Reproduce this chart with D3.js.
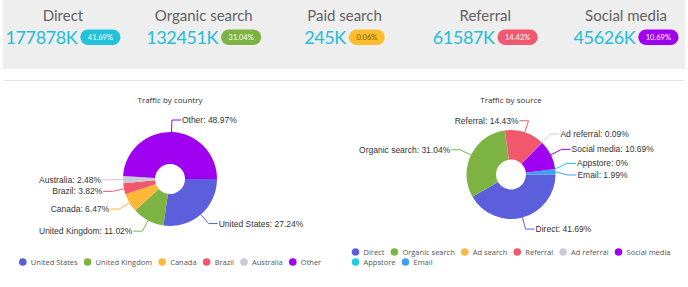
<!DOCTYPE html>
<html>
<head>
<meta charset="utf-8">
<script src="https://cdn.jsdelivr.net/npm/d3@7"></script>
<style>
  body { margin: 0; background: #fff; }
  svg { display: block; }
</style>
</head>
<body>
<script>
// top summary cards
const kpiNames  = ["Direct", "Organic search", "Paid search", "Referral", "Social media"];
const kpiValues = ["177878K", "132451K", "245K", "61587K", "45626K"];
const kpiShares = [41.69, 31.04, 0.06, 14.43, 10.69];
const kpiBadgeColors = ["#22c1dc", "#7cb342", "#fbbd2e", "#f0596f", "#a000f0"];
const kpiBadgeText   = ["#fff", "#fff", "#7a5a00", "#fff", "#fff"];

// donut data
const countries = ["United States", "United Kingdom", "Canada", "Brazil", "Australia", "Other"];
const countryShares = [27.24, 11.02, 6.47, 3.82, 2.48, 48.97];

const sources = ["Direct", "Organic search", "Ad search", "Referral", "Ad referral", "Social media", "Appstore", "Email"];
const sourceShares = [41.69, 31.04, 0.06, 14.43, 0.09, 10.69, 0, 1.99];
const hiddenLabels = ["Ad search"];   // not drawn in the original (overlap)
const flippedLabels = ["Referral"];   // label pushed to the left side

const palette = ["#5c5fdc", "#7cb342", "#fdb83a", "#f1576d", "#cbcad9", "#9f00ef", "#1fcfdf", "#3e9ff4"];

const WIDTH = 688, HEIGHT = 287;

const svg = d3.select("body").append("svg")
    .attr("width", WIDTH)
    .attr("height", HEIGHT);

// grey header band + divider
svg.append("rect")
    .attr("x", 3).attr("y", 0)
    .attr("width", 682).attr("height", 69)
    .attr("fill", "#eeeeee");

svg.append("line")
    .attr("x1", 3).attr("x2", 685)
    .attr("y1", 80.5).attr("y2", 80.5)
    .attr("stroke", "#e4e4e4");

// KPI cards
const xKpi = d3.scalePoint().domain(kpiNames).range([63, 626]);
const pct = d3.format(".2f");

kpiNames.forEach((name, i) => {
    const g = svg.append("g").attr("transform", `translate(${xKpi(name)},0)`);

    g.append("text")
        .attr("y", 15)
        .attr("text-anchor", "middle")
        .attr("dominant-baseline", "central")
        .style("font-family", "Lato, 'Open Sans', sans-serif")
        .style("font-size", "15px")
        .style("fill", "#626262")
        .text(name);

    const val = g.append("text")
        .attr("y", 37)
        .attr("dominant-baseline", "central")
        .style("font-family", "Lato, 'Open Sans', sans-serif")
        .style("font-size", "18px")
        .style("letter-spacing", "-0.4px")
        .style("fill", "#25bdd8")
        .text(kpiValues[i]);

    const badgeTxt = g.append("text")
        .attr("y", 37.5)
        .attr("text-anchor", "middle")
        .attr("dominant-baseline", "central")
        .style("font-family", "Lato, 'Open Sans', sans-serif")
        .style("font-size", "7.5px")
        .style("fill", kpiBadgeText[i])
        .text(pct(kpiShares[i]) + "%");

    const vw = val.node().getComputedTextLength();
    const bw = badgeTxt.node().getComputedTextLength() + 15;
    const total = vw + 3 + bw;
    const x0 = -total / 2;

    val.attr("x", x0);
    g.insert("rect", "text:last-child")
        .attr("x", x0 + vw + 3)
        .attr("y", 29.5)
        .attr("width", bw)
        .attr("height", 15.5)
        .attr("rx", 7.75)
        .attr("fill", kpiBadgeColors[i]);
    badgeTxt.attr("x", x0 + vw + 3 + bw / 2);
});

// donut charts
function drawDonut(opts) {
    const { names, values, cx, cy, rOuter, rInner, title, legendY, legendMaxW } = opts;
    const color = d3.scaleOrdinal().domain(names).range(palette);
    const data = names.map((n, i) => ({ name: n, value: values[i] }));

    const pie = d3.pie()
        .value(d => d.value)
        .sort(null)
        .startAngle(Math.PI / 2)
        .endAngle(Math.PI / 2 + 2 * Math.PI);
    const arcs = pie(data);
    const arc = d3.arc().innerRadius(rInner).outerRadius(rOuter);

    svg.append("text")
        .attr("x", cx).attr("y", 99)
        .attr("text-anchor", "middle")
        .attr("dominant-baseline", "central")
        .style("font-family", "'Open Sans', sans-serif")
        .style("font-size", "8px")
        .style("fill", "#333")
        .text(title);

    const g = svg.append("g").attr("transform", `translate(${cx},${cy})`);

    g.selectAll("path.slice")
        .data(arcs)
        .join("path")
        .attr("class", "slice")
        .attr("d", arc)
        .attr("fill", d => color(d.data.name));

    // labels with leader lines
    const labels = arcs
        .filter(d => !hiddenLabels.includes(d.data.name))
        .map(d => {
            const a = (d.startAngle + d.endAngle) / 2;
            const p0 = [Math.sin(a) * rOuter, -Math.cos(a) * rOuter];
            const p1 = [Math.sin(a) * (rOuter + 12), -Math.cos(a) * (rOuter + 12)];
            let side = Math.sin(a) >= 0 ? 1 : -1;
            if (flippedLabels.includes(d.data.name)) side = -side;
            return { d, p0, p1, side, y: p1[1] };
        });

    [1, -1].forEach(side => {
        const grp = labels.filter(l => l.side === side).sort((a, b) => a.y - b.y);
        for (let k = 0; k < 60; k++) {
            let moved = false;
            for (let i = 1; i < grp.length; i++) {
                const gap = grp[i].y - grp[i - 1].y;
                if (gap < 11.5) {
                    const s = (11.5 - gap) / 2;
                    grp[i].y += s;
                    grp[i - 1].y -= s;
                    moved = true;
                }
            }
            if (!moved) break;
        }
    });

    g.selectAll("polyline.leader")
        .data(labels)
        .join("polyline")
        .attr("class", "leader")
        .attr("points", l => [l.p0, [l.p1[0], l.y], [l.p1[0] + l.side * 9, l.y]].map(p => p.join(",")).join(" "))
        .attr("fill", "none")
        .attr("stroke", l => color(l.d.data.name))
        .attr("stroke-width", 1);

    g.selectAll("text.lbl")
        .data(labels)
        .join("text")
        .attr("class", "lbl")
        .attr("x", l => l.p1[0] + l.side * 10)
        .attr("y", l => l.y)
        .attr("text-anchor", l => l.side > 0 ? "start" : "end")
        .attr("dominant-baseline", "central")
        .style("font-family", "'Liberation Sans', Arial, sans-serif")
        .style("font-size", "8.5px")
        .style("fill", "#333")
        .text(l => `${l.d.data.name}: ${+l.d.data.value.toFixed(2)}%`);

    // legend, wrapped into rows, left aligned inside a centred block
    const lg = svg.append("g");
    const items = lg.selectAll("g.item")
        .data(names)
        .join("g")
        .attr("class", "item");
    items.append("circle")
        .attr("r", 3.8)
        .attr("fill", d => color(d));
    items.append("text")
        .attr("x", 8)
        .attr("dominant-baseline", "central")
        .style("font-family", "'Open Sans', sans-serif")
        .style("font-size", "7.5px")
        .style("fill", "#555")
        .text(d => d);

    const widths = [];
    items.each(function () {
        widths.push(8 + d3.select(this).select("text").node().getComputedTextLength() + 10);
    });
    const rows = [[]];
    let rowW = 0;
    widths.forEach((w, i) => {
        if (rowW + w > legendMaxW && rows[rows.length - 1].length) { rows.push([]); rowW = 0; }
        rows[rows.length - 1].push(i);
        rowW += w;
    });
    const rowWidths = rows.map(r => d3.sum(r, i => widths[i]) - 10 + 4);
    const blockW = d3.max(rowWidths);
    const left = cx - blockW / 2 + 4;
    rows.forEach((r, ri) => {
        let x = left;
        r.forEach(i => {
            d3.select(items.nodes()[i]).attr("transform", `translate(${x},${legendY + ri * 10})`);
            x += widths[i];
        });
    });
}

drawDonut({
    names: countries, values: countryShares,
    cx: 170, cy: 179, rOuter: 47, rInner: 15,
    title: "Traffic by country", legendY: 262, legendMaxW: 330
});

drawDonut({
    names: sources, values: sourceShares,
    cx: 511, cy: 174.5, rOuter: 44.5, rInner: 15,
    title: "Traffic by source", legendY: 252, legendMaxW: 330
});
</script>
</body>
</html>
